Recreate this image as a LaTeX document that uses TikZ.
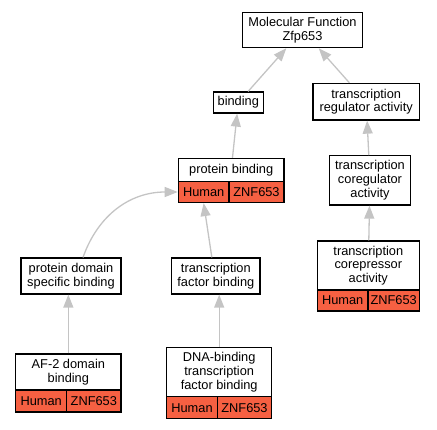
\documentclass[tikz,border=0pt]{standalone}
\usepackage{fontspec}
\setmainfont{Liberation Sans}
\usetikzlibrary{arrows.meta}
\definecolor{cellred}{RGB}{246,96,66}
\definecolor{edgegray}{RGB}{196,196,196}
\newcommand\gofont{\fontsize{12.8}{13.8}\selectfont}
\tikzset{
  box/.style={draw=black, line width=1.2pt, inner sep=0pt, align=center, font=\gofont},
  cell/.style={box, fill=cellred},
  edge/.style={draw=edgegray, line width=1.3pt, -{Triangle[length=13pt,width=10pt]}},
}
\begin{document}
\begin{tikzpicture}[x=1pt,y=-1pt]
\useasboundingbox (0,0) rectangle (437,429);
% nodes
\node[box, minimum width=120pt, minimum height=35.4pt] (mf) at (302.5,30) {Molecular Function\\Zfp653};
\node[box, minimum width=50pt, minimum height=21pt] (binding) at (238.3,102.5) {binding};
\node[box, minimum width=106.3pt, minimum height=36.7pt] (tra) at (366.2,101.7) {transcription\\regulator activity};
\node[box, minimum width=105.7pt, minimum height=23.2pt] (pbt) at (231.2,170) {protein binding};
\node[cell, minimum width=50.7pt, minimum height=21pt] (pbh) at (203.65,192) {Human};
\node[cell, minimum width=55pt, minimum height=21pt] (pbz) at (256.5,192) {ZNF653};
\node[box, minimum width=81.4pt, minimum height=49.3pt] (coreg) at (370,180.4) {transcription\\coregulator\\activity};
\node[box, minimum width=102pt, minimum height=49pt] (cort) at (368.3,265.5) {transcription\\corepressor\\activity};
\node[cell, minimum width=50.7pt, minimum height=21pt] (coh) at (342.65,300.5) {Human};
\node[cell, minimum width=51.3pt, minimum height=21pt] (coz) at (393.65,300.5) {ZNF653};
\node[box, minimum width=100pt, minimum height=36pt] (pds) at (71,276) {protein domain\\specific binding};
\node[box, minimum width=88.3pt, minimum height=36pt] (tfb) at (215.85,276) {transcription\\factor binding};
\node[box, minimum width=105.3pt, minimum height=36pt] (aft) at (68.35,372) {AF-2 domain\\binding};
\node[cell, minimum width=51pt, minimum height=22pt] (afh) at (41.2,401) {Human};
\node[cell, minimum width=54.3pt, minimum height=22pt] (afz) at (93.85,401) {ZNF653};
\node[box, minimum width=105pt, minimum height=49pt] (dnt) at (219.2,372.2) {DNA-binding\\transcription\\factor binding};
\node[cell, minimum width=50.6pt, minimum height=22pt] (dnh) at (192,407.7) {Human};
\node[cell, minimum width=54.4pt, minimum height=22pt] (dnz) at (244.5,407.7) {ZNF653};
% edges
\draw[edge] (binding) -- (mf);
\draw[edge] (tra) -- (mf);
\draw[edge] (pbt) -- (binding);
\draw[edge] (coreg) -- (tra);
\draw[edge] (cort) -- (coreg);
\draw[edge] ([xshift=-4pt]tfb.north) -- (pbh.south);
\draw[edge] ([xshift=12pt]pds.north) .. controls (98,215) and (130,192) .. (pbh.west);
\draw[edge] (aft.north) -- (aft.north |- pds.south);
\draw[edge] (dnt.north) -- (dnt.north |- tfb.south);
\end{tikzpicture}
\end{document}
